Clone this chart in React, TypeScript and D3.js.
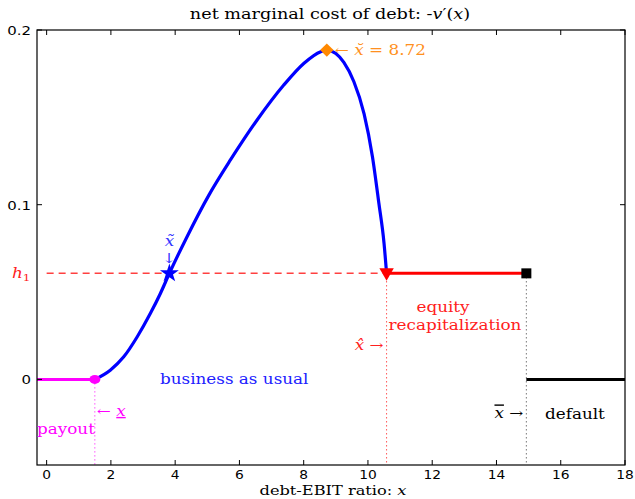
import React, { useEffect, useRef } from "react";
import * as d3 from "d3";

const W = 635;
const H = 499;

// blue curve: -v'(x) between the payout and recap thresholds
const curveX = [1.5, 1.98, 2.4, 2.82, 3.23, 3.54, 3.82, 4.37, 5.05, 5.72, 6.55, 7.38, 8.01, 8.53, 8.72, 9.0, 9.25, 9.56, 9.88, 10.14, 10.34, 10.5, 10.58];
const curveY = [0, 0.0053, 0.0129, 0.0244, 0.0378, 0.0492, 0.0607, 0.0817, 0.1055, 0.1256, 0.1485, 0.1685, 0.181, 0.1876, 0.1885, 0.1865, 0.1815, 0.1705, 0.152, 0.1275, 0.1008, 0.078, 0.0607];

const xTicks = [0, 2, 4, 6, 8, 10, 12, 14, 16, 18];
const yTicks = [0, 0.1, 0.2];

const xLow = 1.5; // payout threshold
const xTilde = 3.82;
const xBreve = 8.72;
const peak = 0.1885;
const xHat = 10.58;
const xBar = 14.93;
const h1 = 0.0607;

const SERIF = "'DejaVu Serif', serif";
const SANS = "'DejaVu Sans', sans-serif";
const SX = 1.2; // reference text is stretched horizontally

const App: React.FC = () => {
  const ref = useRef<SVGSVGElement>(null);

  useEffect(() => {
    if (!ref.current) return;
    const svg = d3.select(ref.current);
    svg.selectAll("*").remove();

    const margin = { top: 30, right: 10, bottom: 34, left: 37 };
    const x = d3.scaleLinear().domain([-0.3, 18]).range([margin.left, W - margin.right]);
    const y = d3.scaleLinear().domain([-0.049, 0.2]).range([H - margin.bottom, margin.top]);
    const [x0, x1] = x.range();
    const [y0, y1] = y.range();

    const g = svg.append("g");

    const txt = (tx: number, ty: number, color: string, anchor = "start", size = 14) =>
      g.append("text")
        .attr("transform", `translate(${tx},${ty}) scale(${SX},1)`)
        .attr("text-anchor", anchor)
        .attr("fill", color)
        .style("font-family", SERIF).style("font-size", `${size}px`);

    // title
    const title = txt(330, 19, "#000", "middle", 14.7);
    title.append("tspan").text("net marginal cost of debt: -");
    title.append("tspan").style("font-style", "italic").text("v");
    title.append("tspan").text("′(");
    title.append("tspan").style("font-style", "italic").text("x");
    title.append("tspan").text(")");

    // vertical dotted guides
    g.append("line")
      .attr("x1", x(xLow)).attr("x2", x(xLow)).attr("y1", y(0)).attr("y2", y0)
      .attr("stroke", "#ff00ff").attr("stroke-width", 1).attr("stroke-dasharray", "1,3");
    g.append("line")
      .attr("x1", x(xHat)).attr("x2", x(xHat)).attr("y1", y(h1)).attr("y2", y0)
      .attr("stroke", "#ff0000").attr("stroke-width", 1).attr("stroke-dasharray", "1,3");
    g.append("line")
      .attr("x1", x(xBar)).attr("x2", x(xBar)).attr("y1", y(h1)).attr("y2", y0)
      .attr("stroke", "#333").attr("stroke-width", 1).attr("stroke-dasharray", "1,3");

    // h1 dashed line
    g.append("line")
      .attr("x1", x(0)).attr("x2", x(xHat)).attr("y1", y(h1)).attr("y2", y(h1))
      .attr("stroke", "#ff4040").attr("stroke-width", 1.5).attr("stroke-dasharray", "7,5");

    // payout segment
    g.append("line")
      .attr("x1", x0).attr("x2", x(xLow)).attr("y1", y(0)).attr("y2", y(0))
      .attr("stroke", "#ff00ff").attr("stroke-width", 3);

    // recap segment
    g.append("line")
      .attr("x1", x(xHat)).attr("x2", x(xBar)).attr("y1", y(h1)).attr("y2", y(h1))
      .attr("stroke", "#ff0000").attr("stroke-width", 3);

    // default segment
    g.append("line")
      .attr("x1", x(xBar)).attr("x2", x1).attr("y1", y(0)).attr("y2", y(0))
      .attr("stroke", "#000").attr("stroke-width", 3);

    // main curve
    const pts = curveX.map((d, i) => [d, curveY[i]] as [number, number]);
    const line = d3.line<[number, number]>()
      .x((d) => x(d[0]))
      .y((d) => y(d[1]))
      .curve(d3.curveMonotoneX);
    g.append("path")
      .datum(pts)
      .attr("fill", "none")
      .attr("stroke", "#0000ff")
      .attr("stroke-width", 3.2)
      .attr("d", line);

    // markers
    g.append("ellipse")
      .attr("cx", x(xLow)).attr("cy", y(0)).attr("rx", 5.5).attr("ry", 4.5)
      .attr("fill", "#ff00ff");
    g.append("path")
      .attr("d", d3.symbol(d3.symbolStar, 110)())
      .attr("transform", `translate(${x(xTilde)},${y(h1)})`)
      .attr("fill", "#0000ff");
    g.append("path")
      .attr("d", d3.symbol(d3.symbolSquare, 90)())
      .attr("transform", `translate(${x(xBreve)},${y(peak)}) rotate(45)`)
      .attr("fill", "#ff8800");
    g.append("path")
      .attr("d", d3.symbol(d3.symbolTriangle, 90)())
      .attr("transform", `translate(${x(xHat)},${y(h1) - 1}) rotate(180)`)
      .attr("fill", "#ff0000");
    g.append("rect")
      .attr("x", x(xBar) - 5).attr("y", y(h1) - 5).attr("width", 10).attr("height", 10)
      .attr("fill", "#000");

    // frame
    g.append("rect")
      .attr("x", x0).attr("y", y1).attr("width", x1 - x0).attr("height", y0 - y1)
      .attr("fill", "none").attr("stroke", "#000").attr("stroke-width", 1.2);

    // ticks (inside, both sides)
    xTicks.forEach((t) => {
      g.append("line").attr("x1", x(t)).attr("x2", x(t)).attr("y1", y0).attr("y2", y0 - 5).attr("stroke", "#000");
      g.append("line").attr("x1", x(t)).attr("x2", x(t)).attr("y1", y1).attr("y2", y1 + 5).attr("stroke", "#000");
      g.append("text")
        .attr("transform", `translate(${x(t)},479) scale(1.15,1)`)
        .attr("text-anchor", "middle")
        .style("font-family", SANS).style("font-size", "12px")
        .text(t);
    });
    yTicks.forEach((t) => {
      g.append("line").attr("x1", x0).attr("x2", x0 + 5).attr("y1", y(t)).attr("y2", y(t)).attr("stroke", "#000");
      g.append("line").attr("x1", x1).attr("x2", x1 - 5).attr("y1", y(t)).attr("y2", y(t)).attr("stroke", "#000");
      g.append("text")
        .attr("transform", `translate(31,${y(t) + 5}) scale(1.15,1)`)
        .attr("text-anchor", "end")
        .style("font-family", SANS).style("font-size", "13px")
        .text(d3.format("")(t));
    });

    // x label
    const xl = txt(333, 495, "#000", "middle", 13.5);
    xl.append("tspan").text("debt-EBIT ratio: ");
    xl.append("tspan").style("font-style", "italic").text("x");

    // annotations
    const h = txt(12, 278, "#ff2020");
    h.append("tspan").style("font-style", "italic").text("h");
    h.append("tspan").attr("dy", 3).style("font-size", "10px").text("1");

    const br = txt(x(xBreve) + 8, y(peak) + 5, "#ff9020");
    br.append("tspan").text("← ");
    br.append("tspan").style("font-style", "italic").text("x̆");
    br.append("tspan").text(" = 8.72");

    txt(x(xTilde), y(h1) - 27, "#3333ff", "middle").style("font-style", "italic").text("x̃");
    txt(x(xTilde), y(h1) - 10, "#3333ff", "middle").text("↓");

    txt(160, 384, "#2020ff").text("business as usual");

    const ul = txt(x(xLow) + 2, 416, "#ff00ff");
    ul.append("tspan").text("← ");
    ul.append("tspan").style("font-style", "italic").style("text-decoration", "underline").text("x");

    txt(37, 434, "#ff00ff").text("payout");

    txt(443, 312, "#ff2020", "middle").text("equity");
    txt(455, 330, "#ff2020", "middle").text("recapitalization");

    const hat = txt(x(xHat) - 3, 350, "#ff2020", "end");
    hat.append("tspan").style("font-style", "italic").text("x̂");
    hat.append("tspan").text(" →");

    const bar = txt(x(xBar) - 3, 418, "#000", "end");
    bar.append("tspan").style("font-style", "italic").style("text-decoration", "overline").text("x");
    bar.append("tspan").text(" →");

    txt(545, 419, "#000").text("default");
  }, []);

  return (
    <svg
      ref={ref}
      width={W}
      height={H}
      viewBox={`0 0 ${W} ${H}`}
      style={{ position: "absolute", left: 0, top: 0, background: "#fff" }}
    />
  );
};

export default App;
